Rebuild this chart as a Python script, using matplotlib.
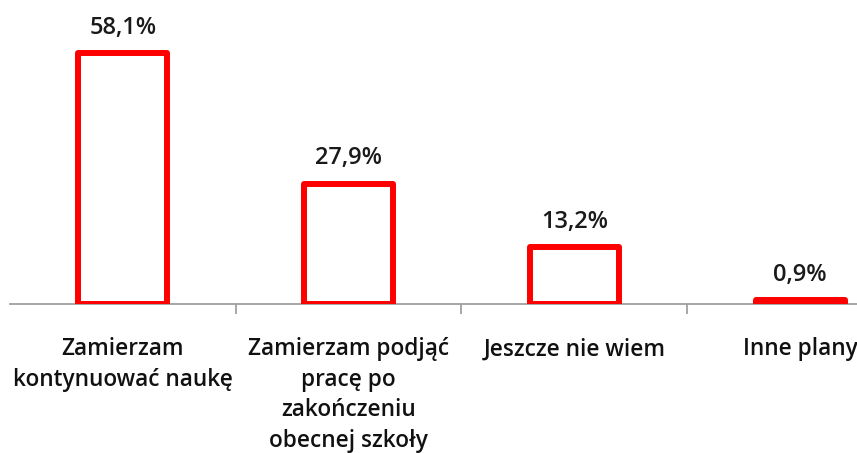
import matplotlib
matplotlib.use("Agg")
import matplotlib.pyplot as plt
from matplotlib.ticker import FixedLocator

categories = ["Zamierzam\nkontynuować naukę", "Zamierzam podjąć\npracę po\nzakończeniu\nobecnej szkoły",
              "Jeszcze nie wiem", "Inne plany"]
values = [58.1, 27.9, 13.2, 0.9]
labels = ["58,1%", "27,9%", "13,2%", "0,9%"]

W, H = 857, 453
fig = plt.figure(figsize=(W/100, H/100), dpi=100)
left_px, right_px, base_px = 10, 913, 304
ax = fig.add_axes([left_px/W, (H-base_px)/H, (right_px-left_px)/W, base_px/H])
ax.set_xlim(-0.5, 3.5)
ax.set_ylim(0, 70.4)

FONT = "Open Sans"
x = range(len(values))
ax.bar(x, values, width=0.395, facecolor="white", edgecolor="#ff0000", linewidth=4.3,
       joinstyle="round", zorder=3)
for xi, v, l in zip(x, values, labels):
    ax.text(xi, v + 4.5, l, ha="center", va="baseline", fontsize=17, fontweight="semibold",
            family=FONT, color="#1a1a1a")

for s in ["top", "right", "left"]:
    ax.spines[s].set_visible(False)
ax.spines["bottom"].set_color("#a0a0a0")
ax.spines["bottom"].set_linewidth(1.3)
ax.set_yticks([])
ax.set_xticks(list(x))
ax.set_xticklabels(categories, fontsize=16.3, fontweight="semibold", family=FONT,
                   linespacing=1.36, color="#111111", va="top")
ax.tick_params(axis="x", which="major", length=0, pad=24)
ax.xaxis.set_minor_locator(FixedLocator([0.5, 1.5, 2.5]))
ax.tick_params(axis="x", which="minor", length=7, width=1.3, color="#a0a0a0")

fig.savefig("out.png", dpi=100)
